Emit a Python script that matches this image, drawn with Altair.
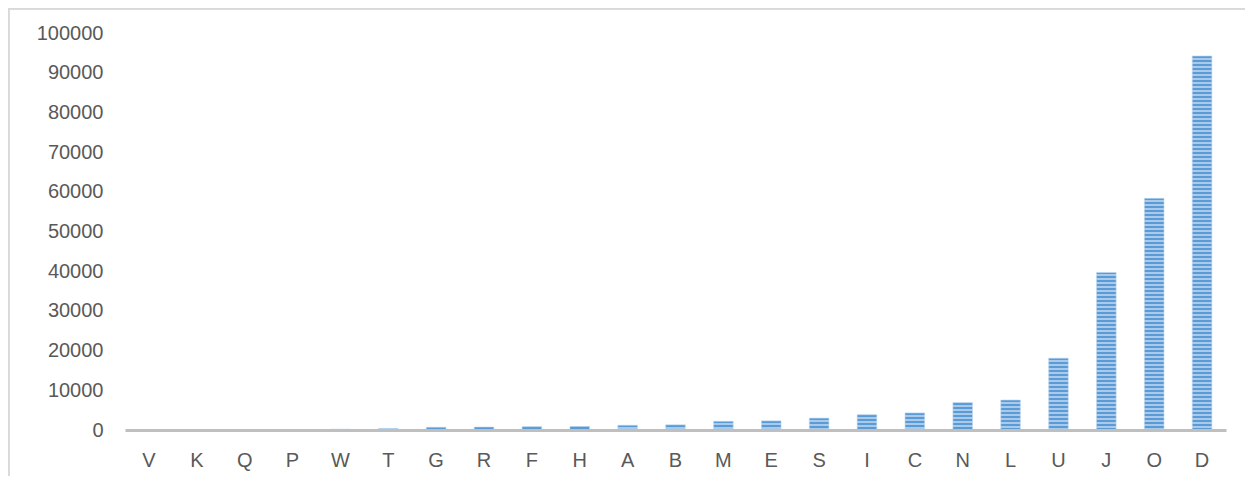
import altair as alt
import pandas as pd

categories = ["V", "K", "Q", "P", "W", "T", "G", "R", "F", "H", "A", "B",
              "M", "E", "S", "I", "C", "N", "L", "U", "J", "O", "D"]
values = [50, 60, 80, 100, 200, 400, 700, 750, 850, 900, 1200, 1300,
          2200, 2300, 3000, 3850, 4300, 6900, 7550, 18100, 39700, 58350, 94200]
y_ticks = [0, 10000, 20000, 30000, 40000, 50000, 60000, 70000, 80000, 90000, 100000]

df = pd.DataFrame({"cat": categories, "value": values})

DARK = "#5B9BD5"
LIGHT = "#A9CAEA"
PLOT_W = 1101
PLOT_H = 397
Y_MAX = 100000
DARK_PX = 2
LIGHT_PX = 2
FONT = "Liberation Sans"
TXT = "#595959"


def stripe_fill(v):
    h = v / Y_MAX * PLOT_H
    if h < 4:
        return DARK
    stops = []
    y = 0.0
    while y < h:
        a = y / h
        b = min((y + DARK_PX) / h, 1.0)
        c = min((y + DARK_PX + LIGHT_PX) / h, 1.0)
        stops += [
            alt.GradientStop(offset=a, color=DARK),
            alt.GradientStop(offset=b, color=DARK),
            alt.GradientStop(offset=b, color=LIGHT),
            alt.GradientStop(offset=c, color=LIGHT),
        ]
        y += DARK_PX + LIGHT_PX
    return alt.Gradient(gradient="linear", stops=stops, x1=0, x2=0, y1=0, y2=1)


x_enc = alt.X(
    "cat:N",
    sort=categories,
    scale=alt.Scale(domain=categories, paddingInner=0.59, paddingOuter=0.295),
    axis=alt.Axis(title=None, labelAngle=0, ticks=False, domainColor="#BFBFBF",
                  domainWidth=3, labelFontSize=20, labelColor=TXT, labelFont=FONT,
                  labelPadding=20, zindex=1),
)
y_enc = alt.Y(
    "value:Q",
    scale=alt.Scale(domain=[0, Y_MAX], nice=False, zero=True),
    axis=alt.Axis(values=y_ticks, title=None, domain=False, ticks=False, grid=False,
                  labelPadding=22, format="d", labelFontSize=20, labelColor=TXT,
                  labelFont=FONT),
)

layers = []
for c, v in zip(categories, values):
    layers.append(
        alt.Chart(df)
        .transform_filter(alt.datum.cat == c)
        .mark_bar(fill=stripe_fill(v), stroke="#BDD7EE", strokeWidth=0.6)
        .encode(x=x_enc, y=y_enc)
    )

border_left = alt.Chart(df).mark_rule(color="#D9D9D9", strokeWidth=1.2).encode(
    x=alt.value(-116.4), y=alt.value(-24.4), y2=alt.value(443)
)
border_top = alt.Chart(df).mark_rule(color="#D9D9D9", strokeWidth=1.2).encode(
    x=alt.value(-116.4), x2=alt.value(1120), y=alt.value(-24.4)
)

chart = (
    alt.layer(*layers, border_left, border_top)
    .properties(
        width=PLOT_W,
        height=PLOT_H,
        padding={"left": 117, "top": 25, "right": 19, "bottom": 46},
        autosize=alt.AutoSizeParams(type="none"),
    )
    .configure_view(stroke=None)
)

chart.save("out.html", embed_options={"renderer": "svg", "actions": False})
